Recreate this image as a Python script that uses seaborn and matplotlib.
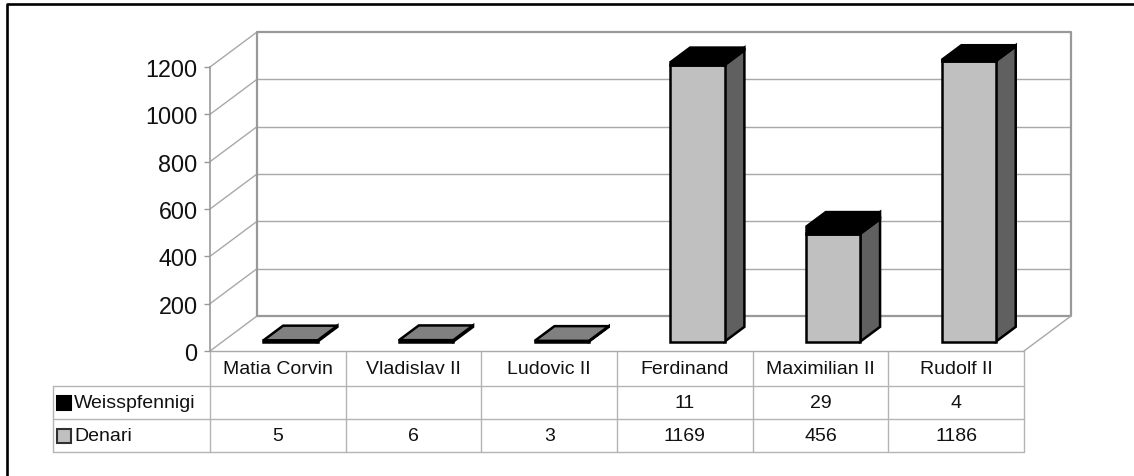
import numpy as np
import pandas as pd
import matplotlib
matplotlib.use("Agg")
import matplotlib.pyplot as plt
import matplotlib.transforms as mtransforms
from matplotlib.patches import Polygon
from matplotlib.lines import Line2D
import seaborn as sns

# data
rulers = ["Matia Corvin", "Vladislav II", "Ludovic II", "Ferdinand", "Maximilian II", "Rudolf II"]
denari = [5, 6, 3, 1169, 456, 1186]
weisspfennigi = [np.nan, np.nan, np.nan, 11, 29, 4]
series_names = ["Weisspfennigi", "Denari"]
yticks = [0, 200, 400, 600, 800, 1000, 1200]

df = pd.DataFrame({"ruler": rulers, "Denari": denari, "Weisspfennigi": weisspfennigi})

sns.set_theme(style="white")
plt.rcParams["font.family"] = ["Liberation Sans", "DejaVu Sans"]

W, H, DPI = 1134, 477, 100
fig = plt.figure(figsize=(W / DPI, H / DPI), dpi=DPI)
fig.patch.set_facecolor("white")

# front plane of the pseudo 3d box (pixels)
x0, x1, ybot, ytop = 210, 1024, 352, 68
ax = fig.add_axes([x0 / W, 1 - ybot / H, (x1 - x0) / W, (ybot - ytop) / H])
ax.set_xlim(-0.5, len(rulers) - 0.5)
ax.set_ylim(0, 1200)
ax.patch.set_alpha(0)

# depth offset in data units
px_x = (len(rulers)) / (x1 - x0)
px_y = 1200 / (ybot - ytop)
DX, DY = 47 * px_x, 35 * px_y
z0, z1 = 0.27, 0.69

wall = "#999999"
grid = "#a8a8a8"

# back wall + side wall + floor
xl, xr = -0.5, len(rulers) - 0.5
for v in yticks:
    ax.plot([xl, xl + DX], [v, v + DY], color=grid, lw=1, clip_on=False, zorder=1)
    if 0 < v < 1200:
        ax.plot([xl + DX, xr + DX], [v + DY, v + DY], color=grid, lw=1, clip_on=False, zorder=1)
ax.plot([xl + DX, xr + DX, xr + DX, xl + DX, xl + DX], [DY, DY, 1200 + DY, 1200 + DY, DY],
        color=wall, lw=1.6, clip_on=False, zorder=1)
ax.plot([xr, xr + DX], [0, DY], color=grid, lw=1, clip_on=False, zorder=1)
ax.plot([xl, xr], [0, 0], color=grid, lw=1, clip_on=False, zorder=1)


def box_faces(i, lo, hi):
    a, b = i - 0.2, i + 0.2
    top = [(a + z0 * DX, hi + z0 * DY), (b + z0 * DX, hi + z0 * DY),
           (b + z1 * DX, hi + z1 * DY), (a + z1 * DX, hi + z1 * DY)]
    side = [(b + z0 * DX, lo + z0 * DY), (b + z1 * DX, lo + z1 * DY),
            (b + z1 * DX, hi + z1 * DY), (b + z0 * DX, hi + z0 * DY)]
    return side, top


shift = mtransforms.Affine2D().translate(0, 0)
ew = 1.8

# Denari: sides and tops, then front faces with seaborn
for i, v in enumerate(df["Denari"]):
    side, top = box_faces(i, 0, v)
    ax.add_patch(Polygon(side, closed=True, fc="#606060", ec="black", lw=ew, clip_on=False, zorder=3))
    ax.add_patch(Polygon(top, closed=True, fc="#808080", ec="black", lw=ew, clip_on=False, zorder=3))

n_before = len(ax.patches)
sns.barplot(data=df, x="ruler", y="Denari", color="#c0c0c0", width=0.4, saturation=1,
            edgecolor="black", linewidth=ew, ax=ax, zorder=4)
tr = mtransforms.Affine2D().translate(z0 * DX, z0 * DY) + ax.transData
for p in ax.patches[n_before:]:
    p.set_transform(tr)
    p.set_clip_on(False)
    p.set_zorder(4)

# Weisspfennigi stacked on top
for i, (d, w) in enumerate(zip(denari, weisspfennigi)):
    if np.isnan(w):
        continue
    side, top = box_faces(i, d, d + w)
    ax.add_patch(Polygon(side, closed=True, fc="black", ec="black", lw=ew, clip_on=False, zorder=5))
    ax.add_patch(Polygon(top, closed=True, fc="black", ec="black", lw=ew, clip_on=False, zorder=5))
    ax.bar([i], [w], bottom=[d], width=0.4, color="black", edgecolor="black", lw=ew,
           transform=tr, clip_on=False, zorder=6)

# axes styling
ax.set_xticks([])
ax.set_xlabel("")
ax.set_ylabel("")
ax.set_yticks(yticks)
ax.set_yticklabels([str(t) for t in yticks])
for s in ["top", "right", "bottom"]:
    ax.spines[s].set_visible(False)
ax.spines["left"].set_color(wall)
ax.spines["left"].set_linewidth(1.2)
ax.tick_params(axis="y", left=True, length=4, width=1, color=wall, pad=5,
               labelsize=16.8, labelcolor="#111111")

# data table below the axis
def row_y(py):
    return (ybot - py) / (ybot - ytop)

btr = mtransforms.blended_transform_factory(ax.transData, ax.transAxes)
tab_left = -0.5 + (53 - x0) * px_x
tab_col = "#b4b4b4"
rows_px = [387, 420, 453]
for py in rows_px:
    ax.plot([tab_left, xr], [row_y(py)] * 2, color=tab_col, lw=1, transform=btr, clip_on=False)
ax.plot([tab_left, tab_left], [row_y(387), row_y(453)], color=tab_col, lw=1, transform=btr, clip_on=False)
for k in range(len(rulers) + 1):
    ax.plot([k - 0.5] * 2, [0, row_y(453)], color=tab_col, lw=1, transform=btr, clip_on=False)

fs = 14
for i, name in enumerate(rulers):
    ax.text(i, row_y(369.5), name, ha="center", va="center", fontsize=fs, color="#111111",
            transform=btr, clip_on=False)
    w = weisspfennigi[i]
    if not np.isnan(w):
        ax.text(i, row_y(403.5), f"{int(w)}", ha="center", va="center", fontsize=fs,
                color="#111111", transform=btr, clip_on=False)
    ax.text(i, row_y(436.5), f"{denari[i]}", ha="center", va="center", fontsize=fs,
            color="#111111", transform=btr, clip_on=False)

key_x = -0.5 + (64 - x0) * px_x
txt_x = -0.5 + (74 - x0) * px_x
key_styles = {"Weisspfennigi": ("black", "black"), "Denari": ("#c0c0c0", "#303030")}
for name, py in zip(series_names, [403.5, 436.5]):
    fc, ec = key_styles[name]
    ax.plot([key_x], [row_y(py)], marker="s", markersize=9.5, mfc=fc, mec=ec, mew=1.5,
            transform=btr, clip_on=False, ls="none")
    ax.text(txt_x, row_y(py), name, ha="left", va="center", fontsize=fs, color="#111111",
            transform=btr, clip_on=False)

# outer frame (left and top only)
fig.add_artist(Line2D([7 / W, 7 / W, 1.0], [0, 1 - 5 / H, 1 - 5 / H], color="black", lw=1.9,
                      transform=fig.transFigure))

fig.savefig("out.png", dpi=DPI)
